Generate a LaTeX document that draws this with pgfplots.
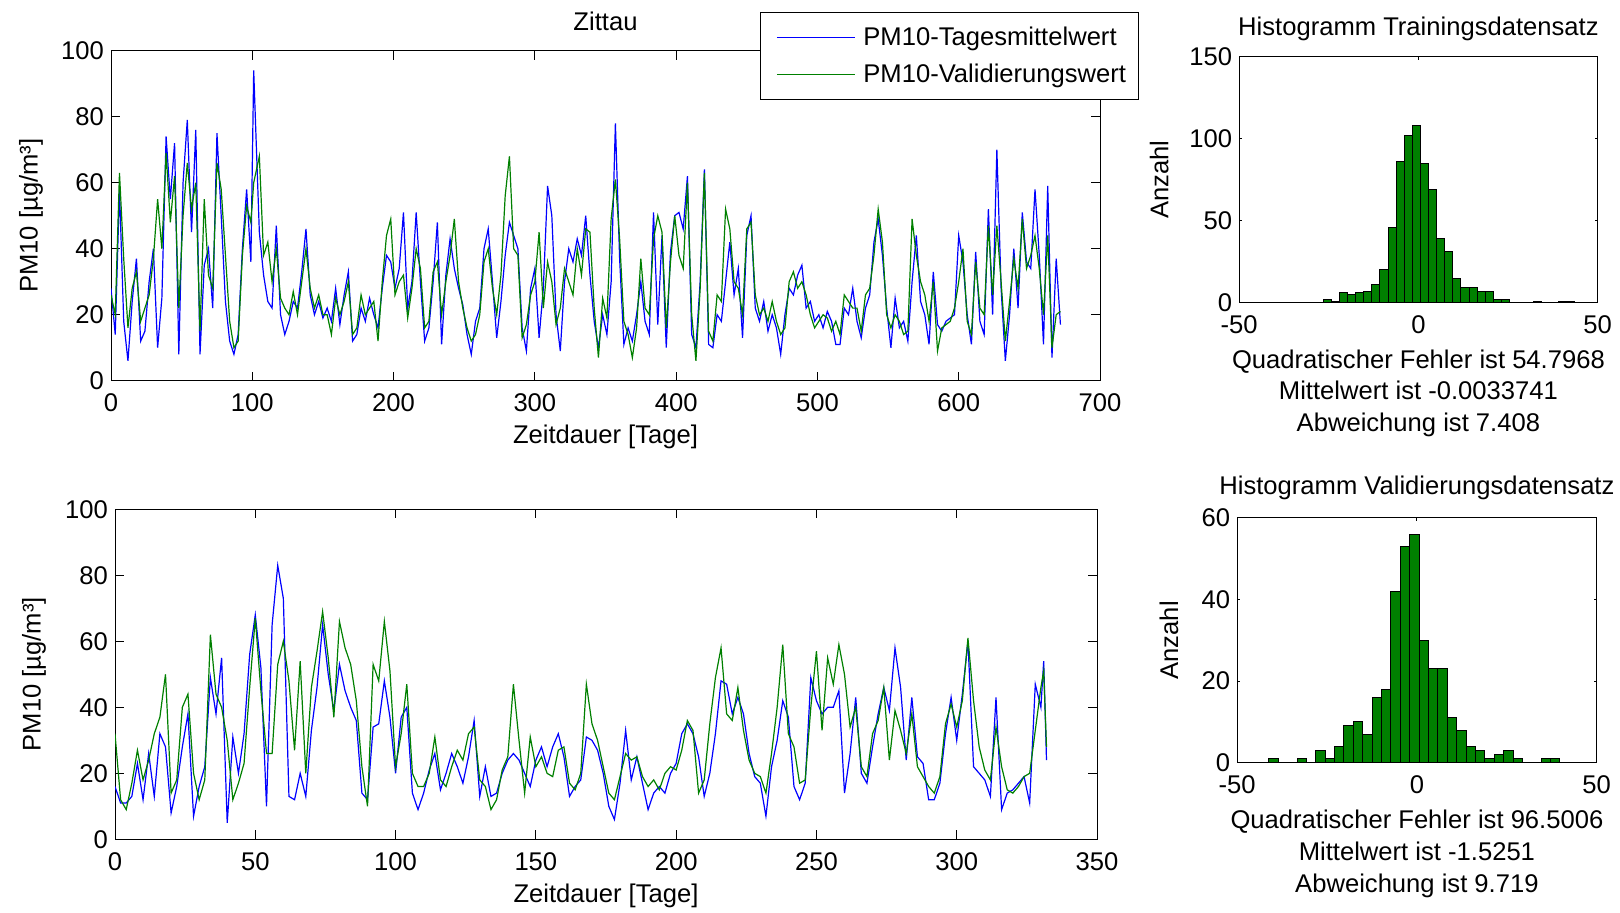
\documentclass[border=0pt]{standalone}
\usepackage{fontspec}
\setmainfont{Liberation Sans}
\usepackage{pgfplots}
\usepackage{pgfplotstable}
\pgfplotsset{compat=1.18}
\definecolor{mgreen}{rgb}{0,0.5,0}
\newcommand{\fs}{\fontsize{12.8}{15.8}\selectfont}
\pgfplotsset{
  mat/.style={
    scale only axis, anchor=south west,
    axis line style={line width=0.5pt},
    every tick/.style={black, line width=0.5pt},
    tick align=inside,
    /pgf/number format/assume math mode=true,
    tick label style={font=\fs},
    xticklabel style={yshift=-3pt},
    label style={font=\fs},
    title style={font=\fs},
    every axis title shift=0pt,
    scaled ticks=false,
  }
}
\pgfplotstableread{
d B G
0 28 26
3 14 20
6 58 63
9 18 37
12 6 16
15 24 28
18 37 33
21 12 18
24 15 22
27 30 26
30 40 37
33 10 55
36 25 40
39 74 69
42 55 48
45 72 62
48 8 22
51 60 50
54 79 66
57 45 52
60 76 60
63 8 15
66 35 55
69 40 32
72 22 28
75 75 66
78 50 58
81 24 38
84 12 18
87 8 10
90 14 12
93 40 38
96 58 53
99 36 48
101 94 60
105 45 68
108 32 38
111 24 42
114 22 30
117 47 40
120 20 25
123 14 22
126 18 20
129 24 27
132 22 20
135 33 30
138 46 40
141 26 28
144 20 22
147 24 26
150 19 20
153 22 20
156 18 14
159 28 25
162 17 20
165 26 24
168 33 30
171 12 14
174 14 16
177 22 26
180 18 20
183 25 22
186 20 24
189 16 12
192 28 30
195 38 44
198 36 49
201 28 26
204 34 30
207 51 32
210 22 19
213 30 28
216 51 40
219 30 34
222 12 16
225 16 18
228 30 33
231 48 36
234 11 20
237 32 30
240 43 38
243 34 49
246 28 30
249 23 22
252 14 16
255 8 12
258 18 14
261 22 20
264 40 36
267 46 40
270 30 28
273 13 20
276 24 32
279 38 56
282 48 68
285 44 40
288 40 38
291 16 13
294 9 17
297 28 26
300 34 30
303 13 45
306 28 22
309 59 36
312 50 30
315 20 17
318 9 22
321 30 34
324 40 30
327 36 26
330 43 40
333 38 32
336 50 46
339 32 45
342 18 22
345 10 7
348 20 25
351 14 19
354 30 49
357 78 61
360 37 43
363 11 18
366 16 14
369 12 7
372 20 16
375 30 37
378 18 22
381 14 20
384 51 43
387 17 50
390 44 45
393 10 16
396 39 36
399 50 50
402 51 38
405 46 34
408 62 60
411 14 20
414 10 6
417 30 28
420 64 63
423 11 15
426 10 12
429 20 26
432 18 24
435 30 52
438 42 46
441 26 30
444 34 28
447 13 20
450 44 46
453 50 48
456 22 26
459 18 20
462 24 22
465 15 18
468 20 24
471 16 18
474 8 14
477 20 16
480 28 30
483 26 33
486 32 28
489 35 30
492 22 26
495 24 20
498 18 16
501 20 18
504 16 20
507 21 19
510 18 15
513 11 18
516 11 14
519 22 26
522 20 24
525 28 22
528 18 22
531 13 15
534 22 26
537 26 28
540 42 38
543 49 52
546 38 42
549 22 20
552 10 16
555 25 20
558 16 18
561 18 14
564 12 15
567 30 49
570 44 38
573 24 30
576 20 26
579 11 18
582 33 30
585 17 9
588 15 16
591 18 17
594 19 18
597 20 22
600 44 30
603 36 40
606 20 18
609 11 14
612 39 36
615 18 22
618 14 20
621 52 47
624 20 26
627 70 47
630 28 30
633 6 12
636 20 24
639 40 37
642 22 28
645 51 49
648 36 34
651 34 38
654 58 44
657 38 34
660 11 20
663 59 44
666 7 10
669 37 20
672 17 21
}\toptable
\pgfplotstableread{
d B G
0 16 32
2 11 12
4 11 9
6 13 17
8 23 27
10 12 18
12 26 24
14 13 32
16 32 37
18 28 50
20 8 14
22 16 18
24 28 40
26 38 44
28 7 20
30 16 12
32 22 18
34 49 62
36 38 44
38 55 40
40 5 30
42 31 12
44 20 17
46 32 23
48 56 46
50 68 67
52 52 45
54 10 26
56 65 26
58 83 53
60 73 60
62 13 48
64 12 27
66 20 54
68 13 20
70 33 46
72 46 57
74 65 69
76 50 55
78 39 37
80 53 66
82 45 58
84 40 53
86 36 42
88 14 22
90 12 10
92 34 53
94 35 48
96 48 66
98 37 51
100 20 22
102 37 32
104 40 47
106 14 20
108 9 16
110 14 16
112 21 20
114 26 31
116 15 18
118 20 16
120 26 22
122 22 27
124 17 24
126 25 32
128 36 34
130 13 18
132 22 16
134 13 9
136 14 12
138 20 21
140 24 25
142 26 47
144 24 30
146 20 14
148 16 31
150 24 22
152 28 25
154 22 20
156 28 19
158 32 27
160 25 28
162 13 17
164 16 15
166 18 20
168 31 47
170 30 35
172 27 30
174 20 22
176 10 14
178 6 12
180 17 19
182 33 26
184 18 24
186 25 25
188 17 19
190 9 16
192 14 18
194 16 15
196 14 20
198 20 22
200 23 21
202 32 27
204 35 36
206 32 33
208 25 14
210 13 18
212 20 35
214 32 49
216 48 58
218 47 38
220 38 36
222 43 46
224 38 33
226 26 24
228 19 20
230 17 19
232 7 14
234 22 26
236 30 40
238 42 59
240 37 32
242 16 28
244 12 17
246 17 18
248 49 40
250 42 57
252 38 33
254 40 55
256 40 47
258 45 59
260 14 50
262 26 34
264 43 40
266 20 22
268 17 19
270 28 32
272 38 36
274 46 46
276 39 24
278 58 39
280 46 33
282 24 26
284 43 38
286 25 22
288 23 19
290 12 16
292 12 14
294 17 19
296 32 35
298 43 41
300 30 34
302 44 42
304 60 61
306 22 42
308 20 28
310 18 21
312 13 18
314 43 34
316 9 22
318 14 15
320 15 14
322 17 16
324 19 19
326 11 20
328 47 33
330 40 46
331 54 51
332 24 28
}\bottable
\begin{document}
\begin{tikzpicture}
\useasboundingbox (0,0) rectangle (810pt,456pt);
% ---------- top time series ----------
\begin{axis}[mat, at={(55.5pt,265.65pt)}, width=494.5pt, height=165pt,
  xmin=0, xmax=700, ymin=0, ymax=100,
  xtick={0,100,...,700}, ytick={0,20,...,100},
  major tick length=4.5pt,
  title={Zittau}, title style={at={(0.5,1.09)}, anchor=center},
  xlabel={Zeitdauer [Tage]}, xlabel style={at={(axis description cs:0.5,-0.17)}, anchor=center},
  ylabel={PM10 [µg/m³]}, ylabel style={at={(axis description cs:-0.081,0.5)}, anchor=center},
  legend style={at={(0.656,1.117)}, anchor=north west, draw=black, fill=white,
    font=\fs, inner xsep=4pt, inner ysep=5pt, row sep=4pt},
  legend cell align=left,
  legend image code/.code={\path (0pt,0pt) (45pt,0pt); \draw[#1] (4pt,0pt) -- (43pt,0pt);},
]
\addplot[blue, line width=0.6pt] table[x=d, y=B] {\toptable};
\addlegendentry{PM10-Tagesmittelwert}
\addplot[mgreen, line width=0.6pt] table[x=d, y=G] {\toptable};
\addlegendentry{PM10-Validierungswert}
\end{axis}
% ---------- bottom time series ----------
\begin{axis}[mat, at={(57.5pt,36.35pt)}, width=491pt, height=165pt,
  xmin=0, xmax=350, ymin=0, ymax=100,
  xtick={0,50,...,350}, ytick={0,20,...,100},
  major tick length=4.5pt,
  xlabel={Zeitdauer [Tage]}, xlabel style={at={(axis description cs:0.5,-0.17)}, anchor=center},
  ylabel={PM10 [µg/m³]}, ylabel style={at={(axis description cs:-0.0825,0.5)}, anchor=center},
]
\addplot[blue, line width=0.6pt] table[x=d, y=B] {\bottable};
\addplot[mgreen, line width=0.6pt] table[x=d, y=G] {\bottable};
\end{axis}
% ---------- top histogram ----------
\begin{axis}[mat, at={(619.6pt,304.65pt)}, width=179.2pt, height=123pt,
  xmin=-50, xmax=50, ymin=0, ymax=150,
  xtick={-50,0,50}, xticklabels={-50,0,50}, ytick={0,50,100,150},
  major tick length=1.5pt,
  title={Histogramm Trainingsdatensatz}, title style={at={(0.5,1.114)}, anchor=center},
  ylabel={Anzahl}, ylabel style={at={(axis description cs:-0.223,0.5)}, anchor=center},
  xlabel={Quadratischer Fehler ist 54.7968\\Mittelwert ist -0.0033741\\Abweichung ist 7.408},
  xlabel style={align=center, at={(axis description cs:0.5,-0.367)}, anchor=center},
]
\addplot[ybar interval, fill=mgreen, draw=black, line width=0.5pt] coordinates {
(-26.56,2) (-24.30,1) (-22.04,6) (-19.78,5) (-17.52,6) (-15.26,7) (-13.00,11) (-10.74,20)
(-8.48,46) (-6.22,86) (-3.96,102) (-1.70,108) (0.56,85) (2.82,69) (5.08,39) (7.34,31)
(9.60,15) (11.86,9) (14.12,9) (16.38,7) (18.64,7) (20.90,2) (23.16,2) (25.42,0)
(27.68,0) (29.94,0) (32.20,1) (34.46,0) (36.72,0) (38.98,1) (41.24,1) (43.50,1)};
\end{axis}
% ---------- bottom histogram ----------
\begin{axis}[mat, at={(618.6pt,74.65pt)}, width=179.7pt, height=122.5pt,
  xmin=-50, xmax=50, ymin=0, ymax=60,
  xtick={-50,0,50}, xticklabels={-50,0,50}, ytick={0,20,40,60},
  major tick length=1.5pt,
  title={Histogramm Validierungsdatensatz}, title style={at={(0.5,1.122)}, anchor=center},
  ylabel={Anzahl}, ylabel style={at={(axis description cs:-0.19,0.5)}, anchor=center},
  xlabel={Quadratischer Fehler ist 96.5006\\Mittelwert ist -1.5251\\Abweichung ist 9.719},
  xlabel style={align=center, at={(axis description cs:0.5,-0.372)}, anchor=center},
]
\addplot[ybar interval, fill=mgreen, draw=black, line width=0.5pt] coordinates {
(-41.20,1) (-38.59,0) (-35.97,0) (-33.36,1) (-30.75,0) (-28.14,3) (-25.52,1) (-22.91,4)
(-20.30,9) (-17.68,10) (-15.07,7) (-12.46,16) (-9.84,18) (-7.23,42) (-4.62,53) (-2.01,56)
(0.61,30) (3.22,23) (5.83,23) (8.45,11) (11.06,8) (13.67,4) (16.29,3) (18.90,1)
(21.51,2) (24.12,3) (26.74,1) (29.35,0) (31.96,0) (34.58,1) (37.19,1) (39.80,1)};
\end{axis}
\end{tikzpicture}
\end{document}
